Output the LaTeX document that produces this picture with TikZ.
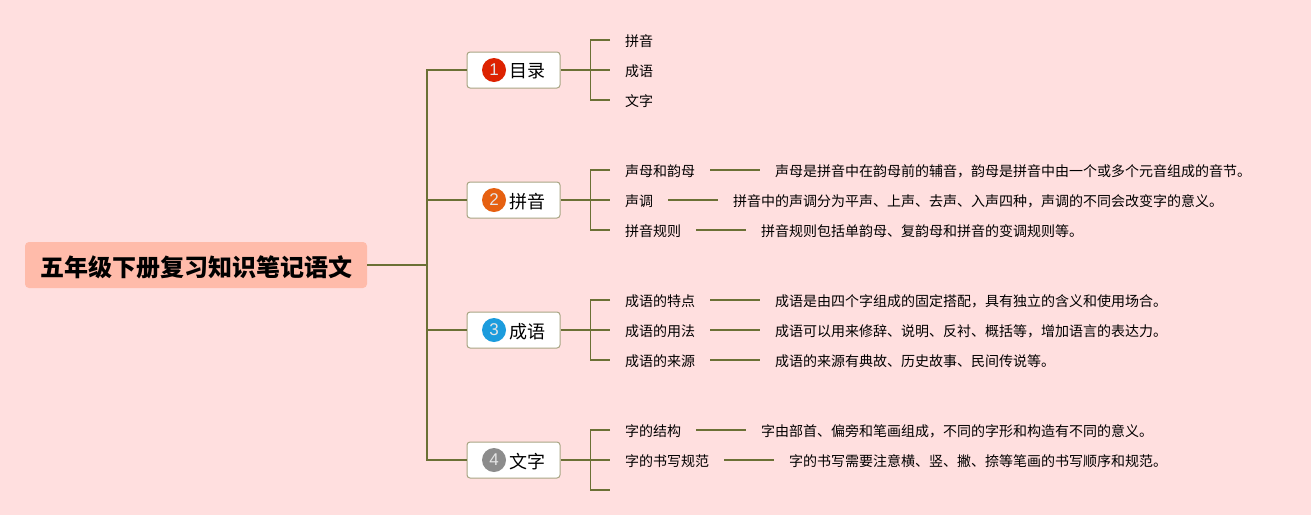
\documentclass[tikz,border=0pt]{standalone}
\usepackage{fontspec}
\setmainfont{Noto Sans CJK SC}
\newfontfamily\numfont{Liberation Sans}
\usetikzlibrary{positioning}
\definecolor{pagebg}{HTML}{FFDFDF}
\definecolor{rootbg}{HTML}{FFBBAA}
\definecolor{linkcol}{HTML}{6B7035}
\definecolor{topicline}{HTML}{A8A583}
\definecolor{numred}{HTML}{DD2200}
\definecolor{numorange}{HTML}{E66010}
\definecolor{numblue}{HTML}{1C9CDD}
\definecolor{numgrey}{HTML}{8C8C8C}
\tikzset{
  link/.style={draw=linkcol,line width=1.8pt},
  rootnode/.style={fill=rootbg,rounded corners=4pt,minimum width=342pt,minimum height=46pt,inner sep=0pt,
    text height=22pt,text depth=0pt,font=\fontsize{24}{24}\selectfont\bfseries},
  topicnode/.style={draw=topicline,fill=white,line width=1pt,rounded corners=3pt,minimum width=93pt,minimum height=36pt,inner sep=0pt},
  numnode/.style={circle,minimum size=24pt,inner sep=0pt,text=white!90!black,font=\numfont\fontsize{17}{17}\selectfont},
  topictext/.style={inner sep=0pt,yshift=-1.5pt,font=\fontsize{18}{18}\selectfont},
  leafnode/.style={anchor=west,inner xsep=15pt,inner ysep=0pt,text height=13pt,text depth=0pt,font=\fontsize{14}{14}\selectfont},
  notenode/.style={right=49.5pt of #1,inner xsep=15pt,inner ysep=0pt,text height=13pt,text depth=0pt,font=\fontsize{14}{14}\selectfont},
}
\begin{document}
\begin{tikzpicture}[x=1pt,y=-1pt]

    % -- Background --
    \fill[pagebg] (0,0) rectangle (1311,515);
    \useasboundingbox (0,0) rectangle (1311,515);

    % -- Root and the four topics --
    \node[rootnode] (root) at (196,265) {五年级下册复习知识笔记语文};
    \coordinate (hub) at (427,265);
    \node[topicnode] (mulu) at (513.5,70) {};
    \node[topicnode] (pinyin) at (513.5,200) {};
    \node[topicnode] (chengyu) at (513.5,330) {};
    \node[topicnode] (wenzi) at (513.5,460) {};

    \node[numnode,fill=numred] (numa) at (494,70) {1};
    \node[numnode,fill=numorange] (numb) at (494,200) {2};
    \node[numnode,fill=numblue] (numc) at (494,330) {3};
    \node[numnode,fill=numgrey] (numd) at (494,460) {4};
    \node[topictext,right=3pt of numa] (texta) {目录};
    \node[topictext,right=3pt of numb] (textb) {拼音};
    \node[topictext,right=3pt of numc] (textc) {成语};
    \node[topictext,right=3pt of numd] (textd) {文字};

    % -- Leaves of the first topic --
    \node[leafnode] (muluone) at (610,40) {拼音};
    \node[leafnode] (mulutwo) at (610,70) {成语};
    \node[leafnode] (muluthree) at (610,100) {文字};

    % -- Leaves of the second topic --
    \node[leafnode] (pyone) at (610,170) {声母和韵母};
    \node[leafnode] (pytwo) at (610,200) {声调};
    \node[leafnode] (pythree) at (610,230) {拼音规则};
    \node[notenode=pyone] (pyonenote) {声母是拼音中在韵母前的辅音，韵母是拼音中由一个或多个元音组成的音节。};
    \node[notenode=pytwo] (pytwonote) {拼音中的声调分为平声、上声、去声、入声四种，声调的不同会改变字的意义。};
    \node[notenode=pythree] (pythreenote) {拼音规则包括单韵母、复韵母和拼音的变调规则等。};

    % -- Leaves of the third topic --
    \node[leafnode] (cyone) at (610,300) {成语的特点};
    \node[leafnode] (cytwo) at (610,330) {成语的用法};
    \node[leafnode] (cythree) at (610,360) {成语的来源};
    \node[notenode=cyone] (cyonenote) {成语是由四个字组成的固定搭配，具有独立的含义和使用场合。};
    \node[notenode=cytwo] (cytwonote) {成语可以用来修辞、说明、反衬、概括等，增加语言的表达力。};
    \node[notenode=cythree] (cythreenote) {成语的来源有典故、历史故事、民间传说等。};

    % -- Leaves of the fourth topic --
    \node[leafnode] (wzone) at (610,430) {字的结构};
    \node[leafnode] (wztwo) at (610,460) {字的书写规范};
    \coordinate (wzthree) at (610,490);
    \node[notenode=wzone] (wzonenote) {字由部首、偏旁和笔画组成，不同的字形和构造有不同的意义。};
    \node[notenode=wztwo] (wztwonote) {字的书写需要注意横、竖、撇、捺等笔画的书写顺序和规范。};

    % -- Connectors --
    \draw[link] (root.east) -- (hub);
    \foreach \t in {mulu,pinyin,chengyu,wenzi}
      \draw[link] (\t.west) -| (hub);
    \foreach \t/\a/\b/\c in {mulu/muluone.west/mulutwo.west/muluthree.west,
                             pinyin/pyone.west/pytwo.west/pythree.west,
                             chengyu/cyone.west/cytwo.west/cythree.west,
                             wenzi/wzone.west/wztwo.west/wzthree} {
      \draw[link] (\t.east) -- (\b);
      \draw[link] (\a) -| ([xshift=30pt]\t.east) |- (\c);
    }
    \foreach \a in {pyone,pytwo,pythree,cyone,cytwo,cythree,wzone,wztwo}
      \draw[link] (\a.east) -- (\a note.west);

\end{tikzpicture}
\end{document}
